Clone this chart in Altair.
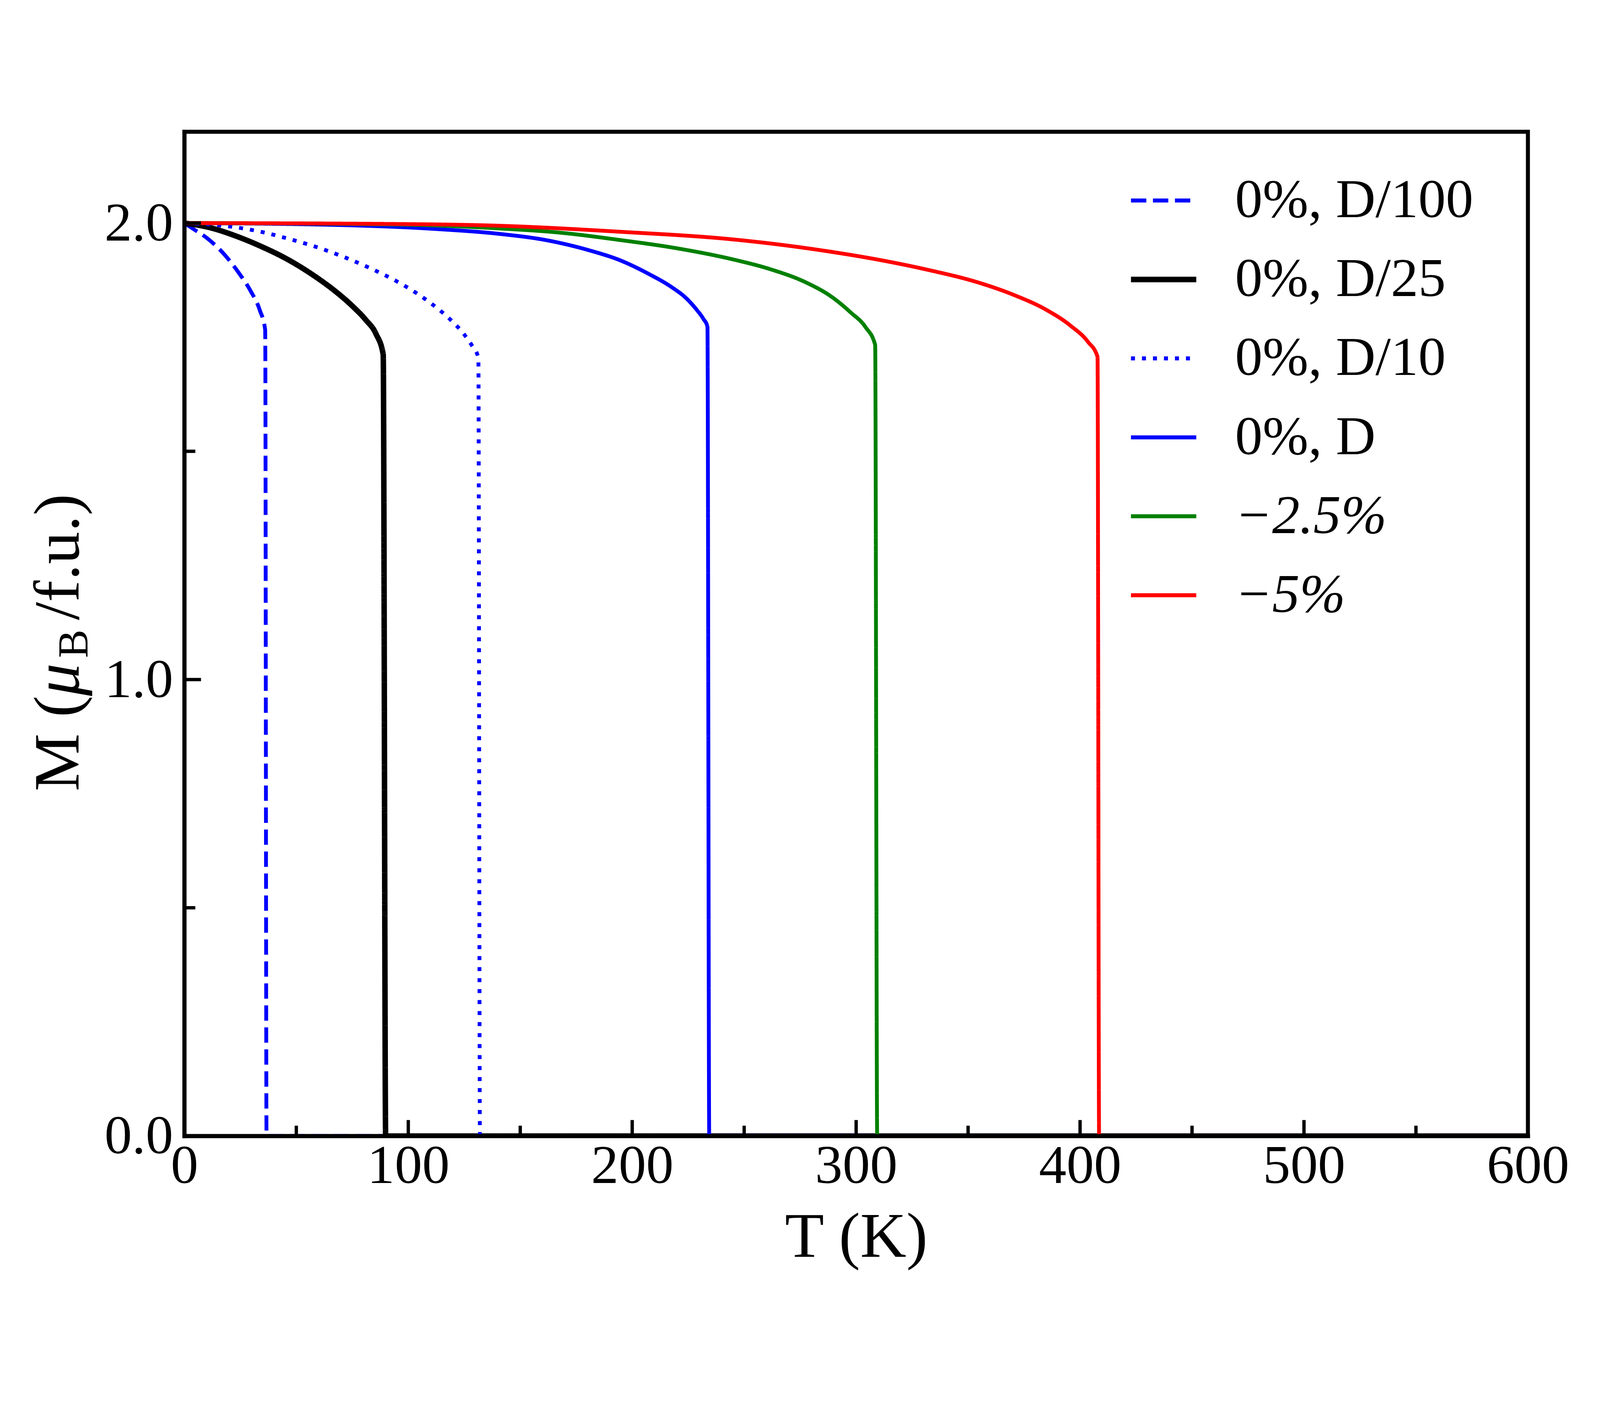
import altair as alt
import pandas as pd

FONT = "Liberation Serif"
H = 3017

series_names = ["0%, D/100", "0%, D/25", "0%, D/10", "0%, D", "−2.5%", "−5%"]
series_colors = ["#0000ff", "#000000", "#0000ff", "#0000ff", "#008000", "#ff0000"]
series_dash = [[46, 20], [1, 0], [12, 21], [1, 0], [1, 0], [1, 0]]

T_d100 = [0, 3.4, 10.9, 17.9, 24.0, 29.5, 33.7, 36.1, 36.7, 600]
M_d100 = [2.0, 1.989, 1.964, 1.931, 1.893, 1.852, 1.809, 1.766, 0.0, 0.0]

T_d25 = [0, 11.4, 22.8, 34.2, 45.5, 56.9, 66.8, 75.3, 81.0, 85.6, 88.8, 89.9, 600]
M_d25 = [2.0, 1.990, 1.972, 1.949, 1.922, 1.888, 1.853, 1.817, 1.788, 1.757, 1.712, 0.0, 0.0]

T_d10 = [0, 15.7, 25.3, 35.0, 44.7, 54.1, 63.5, 72.6, 81.7, 86.1, 95.0, 103.5, 111.5, 118.9, 125.6, 128.4, 131.3, 132.0, 600]
M_d10 = [2.0, 1.995, 1.989, 1.980, 1.968, 1.955, 1.940, 1.923, 1.904, 1.894, 1.872, 1.847, 1.819, 1.788, 1.752, 1.732, 1.705, 0.0, 0.0]

T_d = [0, 66.8, 112.3, 141.2, 161.1, 181.0, 194.3, 207.6, 217.5, 224.2, 228.8, 231.8, 233.6, 234.4, 600]
M_d = [2.0, 1.996, 1.987, 1.976, 1.963, 1.940, 1.919, 1.888, 1.860, 1.835, 1.810, 1.790, 1.773, 0.0, 0.0]

T_m25 = [0, 93.0, 141.2, 167.7, 194.3, 220.8, 245.3, 261.6, 278.0, 288.9, 297.6, 304.2, 308.5, 309.4, 600]
M_m25 = [2.0, 1.997, 1.988, 1.979, 1.963, 1.944, 1.920, 1.899, 1.869, 1.839, 1.804, 1.772, 1.733, 0.0, 0.0]

T_m5 = [0, 93.0, 141.2, 194.3, 245.3, 267.1, 288.9, 310.7, 332.5, 354.4, 370.7, 384.9, 395.8, 403.5, 407.8, 408.5, 600]
M_m5 = [2.0, 1.998, 1.994, 1.981, 1.964, 1.952, 1.937, 1.919, 1.897, 1.870, 1.842, 1.810, 1.775, 1.740, 1.707, 0.0, 0.0]

x_major = [0, 100, 200, 300, 400, 500, 600]
x_minor = [50, 150, 250, 350, 450, 550]
y_major = [0.0, 1.0, 2.0]
y_minor = [0.5, 1.5]

ylabel_parts = ["M (", "μ", "B", "/f.u.)"]

all_T = [T_d100, T_d25, T_d10, T_d, T_m25, T_m5]
all_M = [M_d100, M_d25, M_d10, M_d, M_m25, M_m5]
rows = []
for name, Ts, Ms in zip(series_names, all_T, all_M):
    for i, (t, m) in enumerate(zip(Ts, Ms)):
        rows.append({"series": name, "T": t, "M": m, "i": i})
df = pd.DataFrame(rows)

xscale = alt.Scale(domain=[0, 600], nice=False, zero=False)
yscale = alt.Scale(domain=[0, 2.2], nice=False, zero=False)

x_axis = alt.Axis(values=x_major, format="d", grid=False, ticks=False, tickSize=0,
                  labelFont=FONT, labelFontSize=165, labelColor="black", labelPadding=10,
                  labelFlush=False, labelOverlap=False, labelLimit=2000,
                  domain=True, domainColor="black", domainWidth=12, domainCap="square",
                  title="T (K)", titleFont=FONT, titleFontSize=192, titleFontWeight="normal",
                  titleColor="black", titleBaseline="alphabetic", titleY=362,
                  titleLimit=4000, zindex=1)
y_axis = alt.Axis(values=y_major, format=".1f", grid=False, ticks=False, tickSize=0,
                  labelFont=FONT, labelFontSize=165, labelColor="black", labelPadding=34,
                  labelBaseline="middle", labelOffset=2, labelLimit=2000,
                  labelFlush=False, labelOverlap=False,
                  domain=True, domainColor="black", domainWidth=12, domainCap="square",
                  title=None, zindex=1)

legend = alt.Legend(title=None, orient="none", legendX=2857, legendY=124,
                    symbolType="stroke", symbolSize=38416,
                    symbolStrokeWidth=alt.ExprRef("datum.label == '0%, D/25' ? 16.5 : 12"),
                    labelFont=FONT, labelFontSize=165, labelColor="black", labelOffset=132,
                    labelFontStyle=alt.ExprRef("indexof(datum.label, '%,') >= 0 ? 'normal' : 'italic'"),
                    rowPadding=71, padding=0, labelLimit=2000)

lines = alt.Chart(df).mark_line(interpolate="monotone", clip=True, strokeCap="butt",
                                strokeJoin="round").encode(
    x=alt.X("T:Q", scale=xscale, axis=x_axis),
    y=alt.Y("M:Q", scale=yscale, axis=y_axis),
    color=alt.Color("series:N", scale=alt.Scale(domain=series_names, range=series_colors),
                    legend=legend, sort=series_names),
    strokeDash=alt.StrokeDash("series:N", scale=alt.Scale(domain=series_names, range=series_dash),
                              legend=legend, sort=series_names),
    strokeWidth=alt.condition(alt.datum.series == "0%, D/25", alt.value(16.5), alt.value(11.5)),
    order=alt.Order("i:Q"),
)

def xticks(vals, length):
    return alt.Chart(pd.DataFrame({"T": vals})).mark_rule(color="black", strokeWidth=10).encode(
        x=alt.X("T:Q", scale=xscale, axis=x_axis),
        y=alt.value(H), y2=alt.value(H - length))

def yticks(vals, length):
    return alt.Chart(pd.DataFrame({"M": vals})).mark_rule(color="black", strokeWidth=10).encode(
        y=alt.Y("M:Q", scale=yscale, axis=y_axis),
        x=alt.value(0), x2=alt.value(length))

def ytitle_piece(text, ypix, xpix, size, style):
    return alt.Chart(pd.DataFrame({"t": [text]})).mark_text(
        angle=270, align="left", baseline="alphabetic", font=FONT, fontSize=size,
        fontStyle=style, color="black").encode(
        text="t:N", x=alt.value(xpix), y=alt.value(ypix))

ytitle = [
    ytitle_piece(ylabel_parts[0], 1980, -318, 195, "normal"),
    ytitle_piece(ylabel_parts[1], 1694, -318, 195, "italic"),
    ytitle_piece(ylabel_parts[2], 1580, -291, 128, "normal"),
    ytitle_piece(ylabel_parts[3], 1466, -318, 195, "normal"),
]

chart = alt.layer(
    lines,
    xticks(x_major, 50), xticks(x_minor, 33),
    yticks(y_major, 50), yticks(y_minor, 33),
    *ytitle,
).properties(
    width=4784, height=3584,
    autosize=alt.AutoSizeParams(type="fit", contains="padding"),
    padding={"left": 70, "top": 77, "right": 83, "bottom": 92},
    background="white",
).configure_view(
    stroke="black", strokeWidth=12,
)

chart.save("out.html", embed_options={"renderer": "svg", "actions": False})
